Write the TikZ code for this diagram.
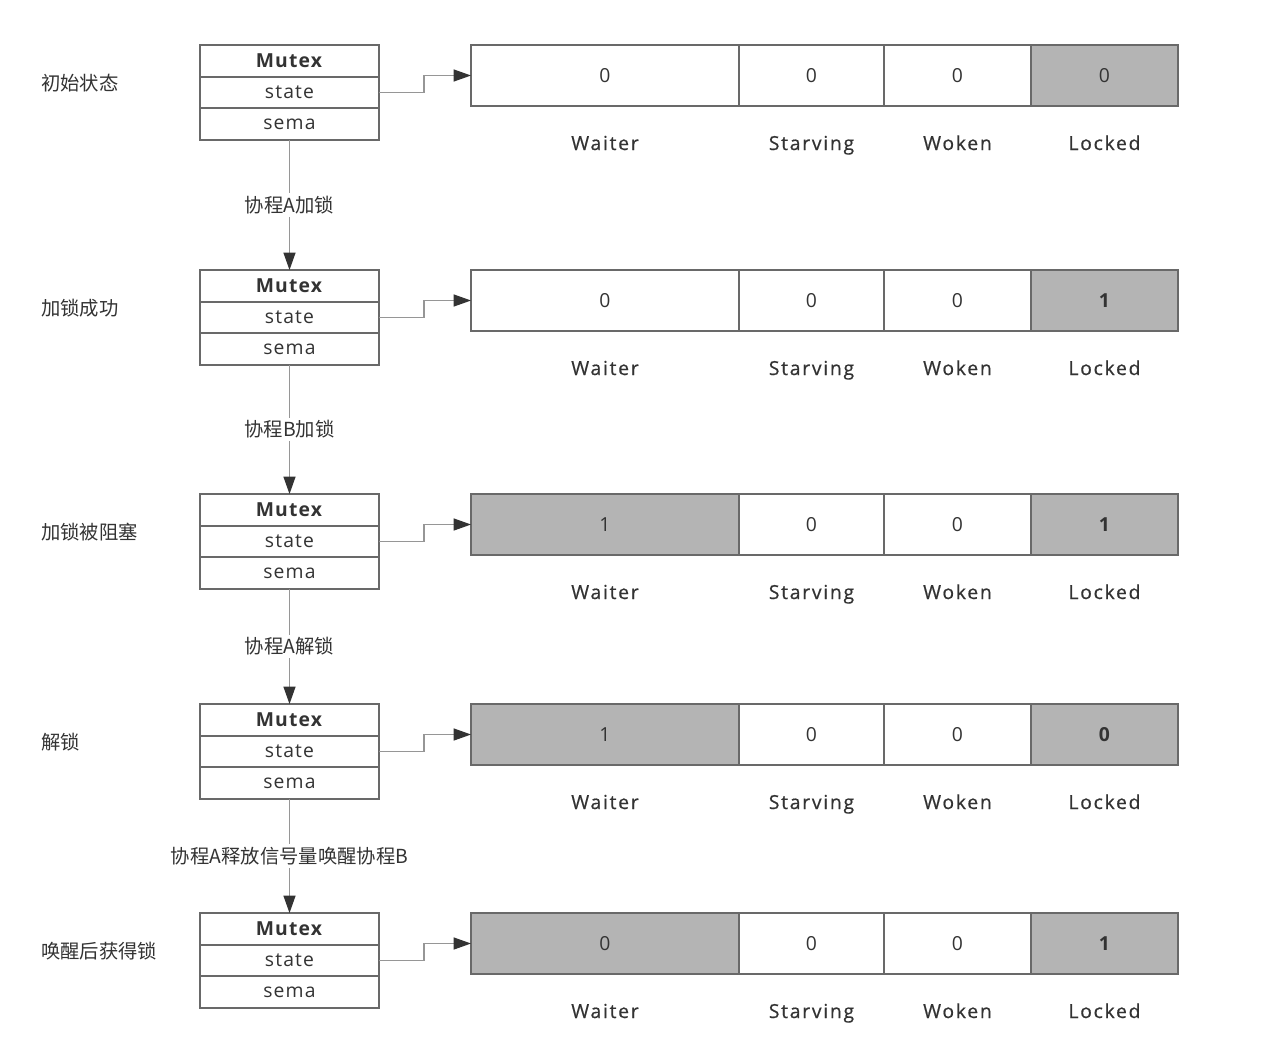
\documentclass[tikz,border=0pt]{standalone}
\usepackage{fontspec}
\setmainfont{Open Sans}
\newfontfamily\cjk{Noto Sans CJK SC}
\usetikzlibrary{arrows.meta}
\definecolor{cellgray}{RGB}{180,180,180}
\definecolor{txt}{RGB}{51,51,51}
\definecolor{edge}{RGB}{105,105,105}
\definecolor{wire}{RGB}{150,150,150}
\def\u{0.75pt}
\begin{document}
\begin{tikzpicture}[x=0.75pt,y=-0.75pt,
  font=\fontsize{14.5pt}{17pt}\selectfont, text=txt,
  mbox/.style={draw=edge, line width=1pt, minimum width={179*\u}, inner sep=0pt, outer sep=0pt},
  cell/.style={draw=edge, line width=0.9pt, minimum height={61*\u}, inner sep=0pt, outer sep=0pt, anchor=north west},
  fieldlab/.style={text height=11pt, text depth=3.5pt, font=\fontsize{14.5pt}{17pt}\selectfont\addfontfeature{LetterSpace=9,FakeBold=0.6}},
  sidelab/.style={anchor=west, inner sep=0pt, font=\cjk\fontsize{14.5pt}{17pt}\selectfont},
  wirearrow/.style={draw=wire, line width=0.9pt, -{Triangle[length=13pt,width=9pt,color=txt]}},
  steplab/.style={fill=white, inner sep=2pt, font=\cjk\fontsize{14.5pt}{17pt}\selectfont}
]
\useasboundingbox[fill=white] (0,0) rectangle (1272,1064);
\foreach \i/\t/\lab/\wv/\wf/\lv in {
  1/45/初始状态/0/white/0,
  2/270/加锁成功/0/white/{\textbf{1}},
  3/494/加锁被阻塞/1/cellgray/{\textbf{1}},
  4/704/解锁/1/cellgray/{\textbf{0}},
  5/913/唤醒后获得锁/0/cellgray/{\textbf{1}}}{
  \node[mbox, minimum height={32*\u}, anchor=north west] (mh\i) at (200,\t)
    {\textbf{\addfontfeature{LetterSpace=6}Mutex}};
  \node[mbox, minimum height={31*\u}, anchor=north] (ms\i) at (mh\i.south)
    {\addfontfeature{LetterSpace=6}state};
  \node[mbox, minimum height={32*\u}, anchor=north] (mm\i) at (ms\i.south)
    {\addfontfeature{LetterSpace=6}sema};
  \node[cell, fill=\wf, minimum width={268*\u}] (w\i) at (471,\t) {\wv};
  \node[cell, minimum width={145*\u}] (s\i) at (w\i.north east) {0};
  \node[cell, minimum width={147*\u}] (k\i) at (s\i.north east) {0};
  \node[cell, fill=cellgray, minimum width={147*\u}] (l\i) at (k\i.north east) {\lv};
  \path (w\i.south) ++(0,39) node[fieldlab] (wl\i) {Waiter};
  \path (s\i.south) ++(0,39) node[fieldlab] (sl\i) {Starving};
  \path (k\i.south) ++(0,39) node[fieldlab] (kl\i) {Woken};
  \path (l\i.south) ++(0,39) node[fieldlab] (ll\i) {Locked};
  \node[sidelab] (c\i) at (41,{\t+38}) {\lab};
  \draw[wirearrow] (ms\i.east) -- ++(45,0) |- (w\i.west);
}
\draw[wirearrow] (mm1.south) -- node[steplab] {协程A加锁} (mh2.north);
\draw[wirearrow] (mm2.south) -- node[steplab] {协程B加锁} (mh3.north);
\draw[wirearrow] (mm3.south) -- node[steplab] {协程A解锁} (mh4.north);
\draw[wirearrow] (mm4.south) -- node[steplab] {协程A释放信号量唤醒协程B} (mh5.north);
\end{tikzpicture}
\end{document}
